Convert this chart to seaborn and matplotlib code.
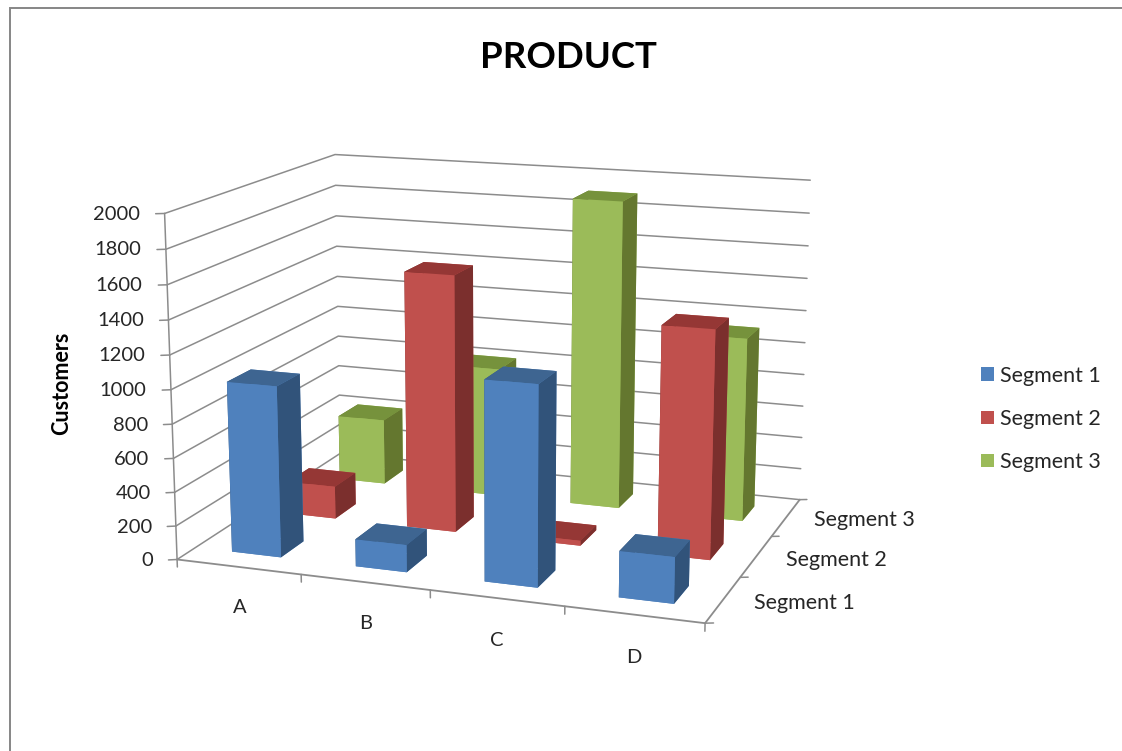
import matplotlib
matplotlib.use("Agg")
import matplotlib.pyplot as plt
from matplotlib.patches import Patch, Rectangle
from mpl_toolkits.mplot3d import proj3d
import seaborn as sns

sns.set_theme(style="white")
plt.rcParams["font.family"] = ["Lato", "DejaVu Sans"]

# Customer counts per product and segment
products = ["A", "B", "C", "D"]
segments = ["Segment 1", "Segment 2", "Segment 3"]
segment_1 = [1010, 160, 1155, 265]
segment_2 = [200, 1550, 30, 1350]
segment_3 = [415, 810, 1900, 1125]
series = [segment_1, segment_2, segment_3]
z_ticks = [0, 200, 400, 600, 800, 1000, 1200, 1400, 1600, 1800, 2000]

front_colors = sns.color_palette(["#4F81BD", "#C0504D", "#9BBB59"])
top_colors = sns.color_palette(["#3E6591", "#953735", "#76923C"])
side_colors = sns.color_palette(["#31537A", "#7B2F2D", "#64772F"])

GRID = "#8C8C8C"
INK = "#262626"
W, H = 1122, 751

fig = plt.figure(figsize=(W / 100, H / 100), dpi=100, facecolor="white")
side = 724.0
ax = fig.add_axes([129.6 / W, 14.0 / H, side / W, side / H], projection="3d", computed_zorder=False)
ax.set_xlim(0, 4, view_margin=0)
ax.set_ylim(0, 3, view_margin=0)
ax.set_zlim(0, 2000, view_margin=0)
ax.view_init(elev=13.8, azim=-70.42)
ax.set_proj_type("persp", focal_length=0.576)
ax.set_box_aspect((1, 0.75, 0.645))
ax.set_axis_off()
ax.patch.set_alpha(0)

nx, ny = len(products), len(segments)
zmax = z_ticks[-1]
M = ax.get_proj()


def label(x, y, z, text, **kwargs):
    """Place a flat label at the projected position of a data point."""
    px, py, _ = proj3d.proj_transform(x, y, z, M)
    ax.text2D(px, py, text, transform=ax.transData, color=INK, zorder=30, **kwargs)


# Gridlines across the two walls, with the value scale on the front edge
for z in z_ticks:
    ax.plot([0, 0, nx], [0, ny, ny], [z, z, z], color=GRID, lw=1.1, zorder=1)
    ax.plot([-0.055, 0], [-0.03, 0], [z, z], color=GRID, lw=1.1, zorder=1)
    label(-0.155, -0.08, z, str(z), ha="right", va="center", fontsize=14.5)
ax.plot([0, 0], [0, 0], [0, zmax], color=GRID, lw=1.1, zorder=1)

# Floor axes with their tick marks
ax.plot([0, nx, nx], [0, 0, ny], [0, 0, 0], color=GRID, lw=1.3, zorder=1)
for i in range(nx + 1):
    ax.plot([i, i], [0, 0], [0, -45], color=GRID, lw=1.1, zorder=1)
for j in range(ny + 1):
    ax.plot([nx, nx + 0.053], [j, j + 0.023], [0, 0], color=GRID, lw=1.1, zorder=1)

for i, name in enumerate(products):
    label(0.89 + 0.945 * i, -0.78, 0, name, ha="center", va="center", fontsize=14.5)
for j, name in enumerate(segments):
    label(nx + 0.22, j + 0.5, 0, name, ha="left", va="center", fontsize=15.5)

# Bars, farthest row first so nearer rows paint over it
bar = 0.4
order = 10
for j in range(ny - 1, -1, -1):
    for i, value in enumerate(series[j]):
        faces = [front_colors[j], top_colors[j], front_colors[j], front_colors[j], side_colors[j], side_colors[j]]
        ax.bar3d(i + 0.3, j + 0.3, 0, bar, bar, value, color=faces, shade=False,
                 edgecolor="none", linewidth=0, zorder=order)
        order += 1

fig.text(568 / W, 1 - 57 / H, "PRODUCT", ha="center", va="center", fontsize=26.4, fontweight="bold", color="black")
fig.text(62 / W, 1 - 383 / H, "Customers", rotation=90, ha="center", va="center", fontsize=15.5, fontweight="bold", color="black")

handles = [Patch(facecolor=c, edgecolor="none") for c in front_colors]
fig.legend(handles, segments, loc="center left", bbox_to_anchor=(981 / W, 1 - 419 / H), frameon=False,
           fontsize=15.5, labelspacing=1.08, handlelength=0.6, handleheight=0.6, handletextpad=0.28,
           labelcolor=INK, borderpad=0, borderaxespad=0)

# Outer chart frame
fig.add_artist(Rectangle((9.5 / W, -0.1), 1.2, 1.1 - 8 / H, transform=fig.transFigure, fill=False,
                         edgecolor="#868686", lw=1.4))

fig.savefig("out.png", dpi=100)
